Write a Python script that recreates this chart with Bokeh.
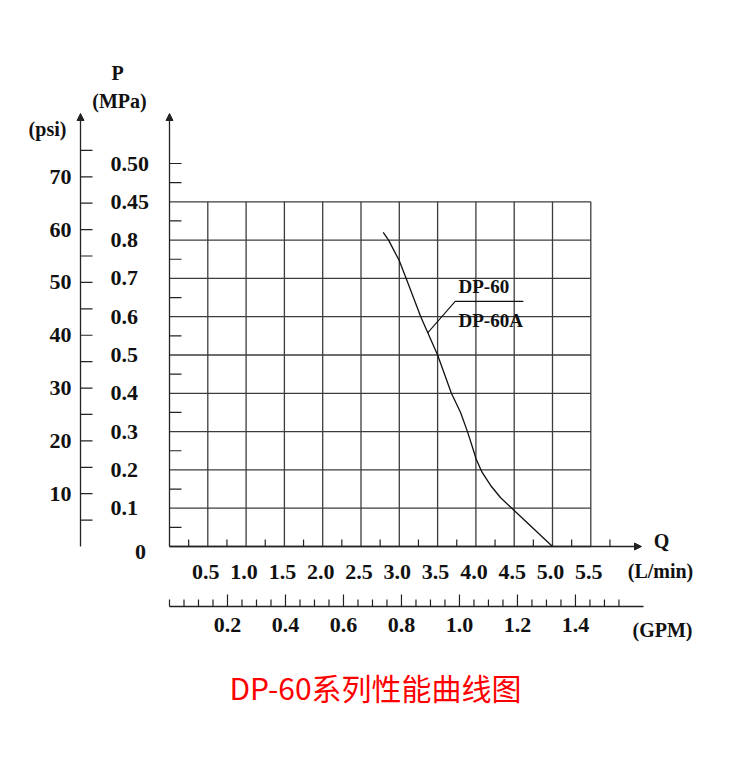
from bokeh.plotting import figure
from bokeh.models import Range1d, Arrow, NormalHead
from bokeh.embed import file_html
from bokeh.resources import INLINE
from bokeh.core.properties import value

# ---------------- data ----------------
q_flow = [2.79, 2.86, 3.00, 3.09, 3.28, 3.50, 3.68, 3.80, 3.89, 3.97, 4.00, 4.08, 4.19, 4.32, 4.50, 5.00]
p_press = [0.410, 0.400, 0.373, 0.350, 0.300, 0.250, 0.200, 0.175, 0.150, 0.125, 0.115, 0.097, 0.080, 0.064, 0.047, 0.000]

q_ticks = [0.5, 1.0, 1.5, 2.0, 2.5, 3.0, 3.5, 4.0, 4.5, 5.0, 5.5]
q_labels = ["0.5", "1.0", "1.5", "2.0", "2.5", "3.0", "3.5", "4.0", "4.5", "5.0", "5.5"]
mpa_ticks = [0.05, 0.10, 0.15, 0.20, 0.25, 0.30, 0.35, 0.40, 0.45, 0.50]
mpa_labels = ["0.1", "0.2", "0.3", "0.4", "0.5", "0.6", "0.7", "0.8", "0.45", "0.50"]
psi_ticks = [10, 20, 30, 40, 50, 60, 70]
psi_labels = ["10", "20", "30", "40", "50", "60", "70"]
gpm_ticks = [0.2, 0.4, 0.6, 0.8, 1.0, 1.2, 1.4]
gpm_labels = ["0.2", "0.4", "0.6", "0.8", "1.0", "1.2", "1.4"]
series_names = ["DP-60", "DP-60A"]
title_text = "DP-60系列性能曲线图"

MPA_PER_PSI = 0.00689476
LPM_PER_GPM = 3.78541

# ---------------- layout ----------------
W, H = 734, 758
SX = 76.6      # px per L/min
SY = 766.0     # px per MPa
OFF = 0        # page offset of the figure
X0 = -(169 - OFF) / SX
X1 = X0 + W / SX
Y0 = -(H - (546 - OFF)) / SY
Y1 = Y0 + H / SY


def px(X):
    return X0 + (X - OFF) / SX


def py(Y):
    return Y1 - (Y - OFF) / SY


def dx(n):
    return n / SX


def dy(n):
    return n / SY


FONT = value("Liberation Serif")
NUM_SIZE = "22px"
GRID_C = "#3c3c3c"
AX_C = "#222222"
TXT_C = "#111111"

p = figure(width=W, height=H, x_range=Range1d(X0, X1), y_range=Range1d(Y0, Y1),
           output_backend="svg", toolbar_location=None, x_axis_type=None, y_axis_type=None,
           min_border=0, min_border_left=0, min_border_right=0, min_border_top=0, min_border_bottom=0,
           outline_line_color=None, background_fill_color="white", border_fill_color="white")
p.xgrid.visible = False
p.ygrid.visible = False

q_max = q_ticks[-1]
p_top = mpa_ticks[8]

# grid: horizontal
hy = [0.0] + mpa_ticks[:9]
p.segment(x0=[0.0] * len(hy), y0=hy, x1=[q_max] * len(hy), y1=hy, line_color=GRID_C, line_width=1.3)
# grid: vertical
p.segment(x0=q_ticks, y0=[0.0] * len(q_ticks), x1=q_ticks, y1=[p_top] * len(q_ticks), line_color=GRID_C, line_width=1.3)

# MPa axis line with arrow
p.add_layout(Arrow(end=NormalHead(size=7, fill_color=AX_C, line_color=AX_C), x_start=0.0, y_start=0.0,
                   x_end=0.0, y_end=py(113), line_color=AX_C, line_width=1.3))
half = [m - 0.025 for m in mpa_ticks] + [mpa_ticks[-1]]
p.segment(x0=[0.0] * len(half), y0=half, x1=[dx(12)] * len(half), y1=half, line_color=AX_C, line_width=1.2)
p.text(x=[px(110)] * len(mpa_ticks), y=mpa_ticks, text=mpa_labels, text_font=FONT, text_font_size=NUM_SIZE,
       text_font_style="bold", text_align="left", text_baseline="middle", text_color=TXT_C)
p.text(x=[px(140)], y=[0.0], text=["0"], y_offset=[5], text_font=FONT, text_font_size=NUM_SIZE,
       text_font_style="bold", text_align="center", text_baseline="middle", text_color=TXT_C)

# psi axis
PSI_X = px(80)
p.add_layout(Arrow(end=NormalHead(size=7, fill_color=AX_C, line_color=AX_C), x_start=PSI_X, y_start=0.0,
                   x_end=PSI_X, y_end=py(113), line_color=AX_C, line_width=1.3))
psi_minor = [5 * k for k in range(1, 16)]
pm = [v * MPA_PER_PSI for v in psi_minor]
p.segment(x0=[PSI_X] * len(pm), y0=pm, x1=[PSI_X + dx(12)] * len(pm), y1=pm, line_color=AX_C, line_width=1.2)
p.text(x=[px(71)] * len(psi_ticks), y=[v * MPA_PER_PSI for v in psi_ticks], text=psi_labels, text_font=FONT,
       text_font_size=NUM_SIZE, text_font_style="bold", text_align="right", text_baseline="middle", text_color=TXT_C)

# Q axis
p.add_layout(Arrow(end=NormalHead(size=7, fill_color=AX_C, line_color=AX_C), x_start=0.0, y_start=0.0,
                   x_end=px(641), y_end=0.0, line_color=AX_C, line_width=1.3))
qm = [q - 0.25 for q in q_ticks] + [q_ticks[-1] + 0.25]
p.segment(x0=qm, y0=[0.0] * len(qm), x1=qm, y1=[dy(7)] * len(qm), line_color=AX_C, line_width=1.2)
p.text(x=q_ticks, y=[py(571)] * len(q_ticks), text=q_labels, x_offset=-2, text_font=FONT, text_font_size=NUM_SIZE,
       text_font_style="bold", text_align="center", text_baseline="middle", text_color=TXT_C)

# GPM axis
GY = py(606)
p.segment(x0=[0.0], y0=[GY], x1=[px(643)], y1=[GY], line_color=AX_C, line_width=1.3)
g_all = [round(0.05 * k, 2) for k in range(0, 32)]
g_major = [g for g in g_all if g in gpm_ticks]
g_minor = [g for g in g_all if g not in gpm_ticks]
p.segment(x0=[g * LPM_PER_GPM for g in g_minor], y0=[GY] * len(g_minor),
          x1=[g * LPM_PER_GPM for g in g_minor], y1=[GY + dy(7)] * len(g_minor), line_color=AX_C, line_width=1.2)
p.segment(x0=[g * LPM_PER_GPM for g in g_major], y0=[GY] * len(g_major),
          x1=[g * LPM_PER_GPM for g in g_major], y1=[GY + dy(12)] * len(g_major), line_color=AX_C, line_width=1.2)
p.text(x=[g * LPM_PER_GPM for g in gpm_ticks], y=[py(624)] * len(gpm_ticks), text=gpm_labels, text_font=FONT,
       text_font_size=NUM_SIZE, text_font_style="bold", text_align="center", text_baseline="middle", text_color=TXT_C)

# axis titles
p.text(x=[px(117), px(119), px(47), px(661), px(660), px(662)],
       y=[py(72), py(100), py(128), py(540), py(570), py(629)],
       text=["P", "(MPa)", "(psi)", "Q", "(L/min)", "(GPM)"], text_font=FONT, text_font_size="20px",
       text_font_style="bold", text_align="center", text_baseline="middle", text_color=TXT_C)

# curve
p.line(q_flow, p_press, line_color=TXT_C, line_width=1.3)

# leader & series labels
LX = [3.37, 3.73, 4.62]
LY = [0.279, 0.320, 0.320]
p.line(LX, LY, line_color=TXT_C, line_width=1.1)
p.text(x=[px(458), px(458)], y=[py(286), py(320)], text=series_names, text_font=FONT, text_font_size="19px",
       text_font_style="bold", text_align="left", text_baseline="middle", text_color=TXT_C)

# title
p.text(x=[px(375)], y=[py(686)], text=[title_text], text_font=value("Noto Sans CJK SC"), text_font_size="30px",
       text_align="center", text_baseline="middle", text_color="#ff0000")

open("out.html", "w").write(file_html(p, INLINE))
